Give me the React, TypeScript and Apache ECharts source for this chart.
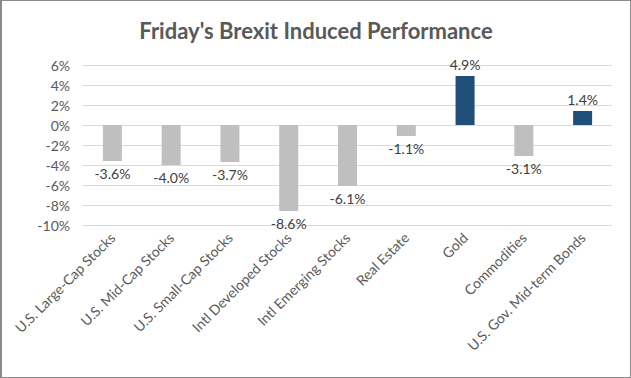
import React, { useEffect, useRef } from "react";
import * as echarts from "echarts";

const categories = [
  "U.S. Large-Cap Stocks",
  "U.S. Mid-Cap Stocks",
  "U.S. Small-Cap Stocks",
  "Intl Developed Stocks",
  "Intl Emerging Stocks",
  "Real Estate",
  "Gold",
  "Commodities",
  "U.S. Gov. Mid-term Bonds",
];
const values = [-3.6, -4.0, -3.7, -8.6, -6.1, -1.1, 4.9, -3.1, 1.4];
const yTicks = { min: -10, max: 6, interval: 2 };
const title = "Friday's Brexit Induced Performance";

const FONT = "Lato, 'Open Sans', sans-serif";

export default function App() {
  const ref = useRef<HTMLDivElement>(null);
  useEffect(() => {
    document.body.style.margin = "0";
    const chart = echarts.init(ref.current!, undefined, { renderer: "svg" });
    chart.setOption({
      animation: false,
      backgroundColor: "#ffffff",
      title: {
        text: title,
        left: "center",
        top: 13,
        textStyle: { fontFamily: FONT, fontSize: 22, fontWeight: "bold", color: "#595959" },
      },
      grid: { left: 81, right: 18, top: 64, bottom: 152, containLabel: false },
      xAxis: {
        type: "category",
        data: categories,
        axisLine: { show: false, onZero: false },
        axisTick: { show: false },
        axisLabel: {
          interval: 0,
          rotate: 45,
          margin: 10,
          color: "#595959",
          fontFamily: FONT,
          fontSize: 14,
        },
      },
      yAxis: {
        type: "value",
        min: yTicks.min,
        max: yTicks.max,
        interval: yTicks.interval,
        axisLine: { show: false },
        axisTick: { show: false },
        splitLine: { lineStyle: { color: "#d9d9d9", width: 1 } },
        axisLabel: {
          formatter: (v: number) => `${v}%`,
          color: "#595959",
          fontFamily: FONT,
          fontSize: 14,
          margin: 13,
        },
      },
      series: [
        {
          type: "bar",
          barWidth: 19,
          data: values.map((v) => ({
            value: v,
            itemStyle: { color: v < 0 ? "#bfbfbf" : "#1f4e79" },
            label: { position: v < 0 ? "bottom" : "top" },
          })),
          label: {
            show: true,
            distance: 5,
            formatter: (p: any) => `${p.value.toFixed(1)}%`,
            color: "#404040",
            fontFamily: FONT,
            fontSize: 14,
          },
        },
      ],
    });
    return () => chart.dispose();
  }, []);
  return (
    <div
      style={{
        width: 631,
        height: 378,
        boxSizing: "border-box",
        border: "1px solid #8a8a8a",
        borderLeftWidth: 2,
        background: "#fff",
      }}
    >
      <div ref={ref} style={{ width: 628, height: 376 }} />
    </div>
  );
}
